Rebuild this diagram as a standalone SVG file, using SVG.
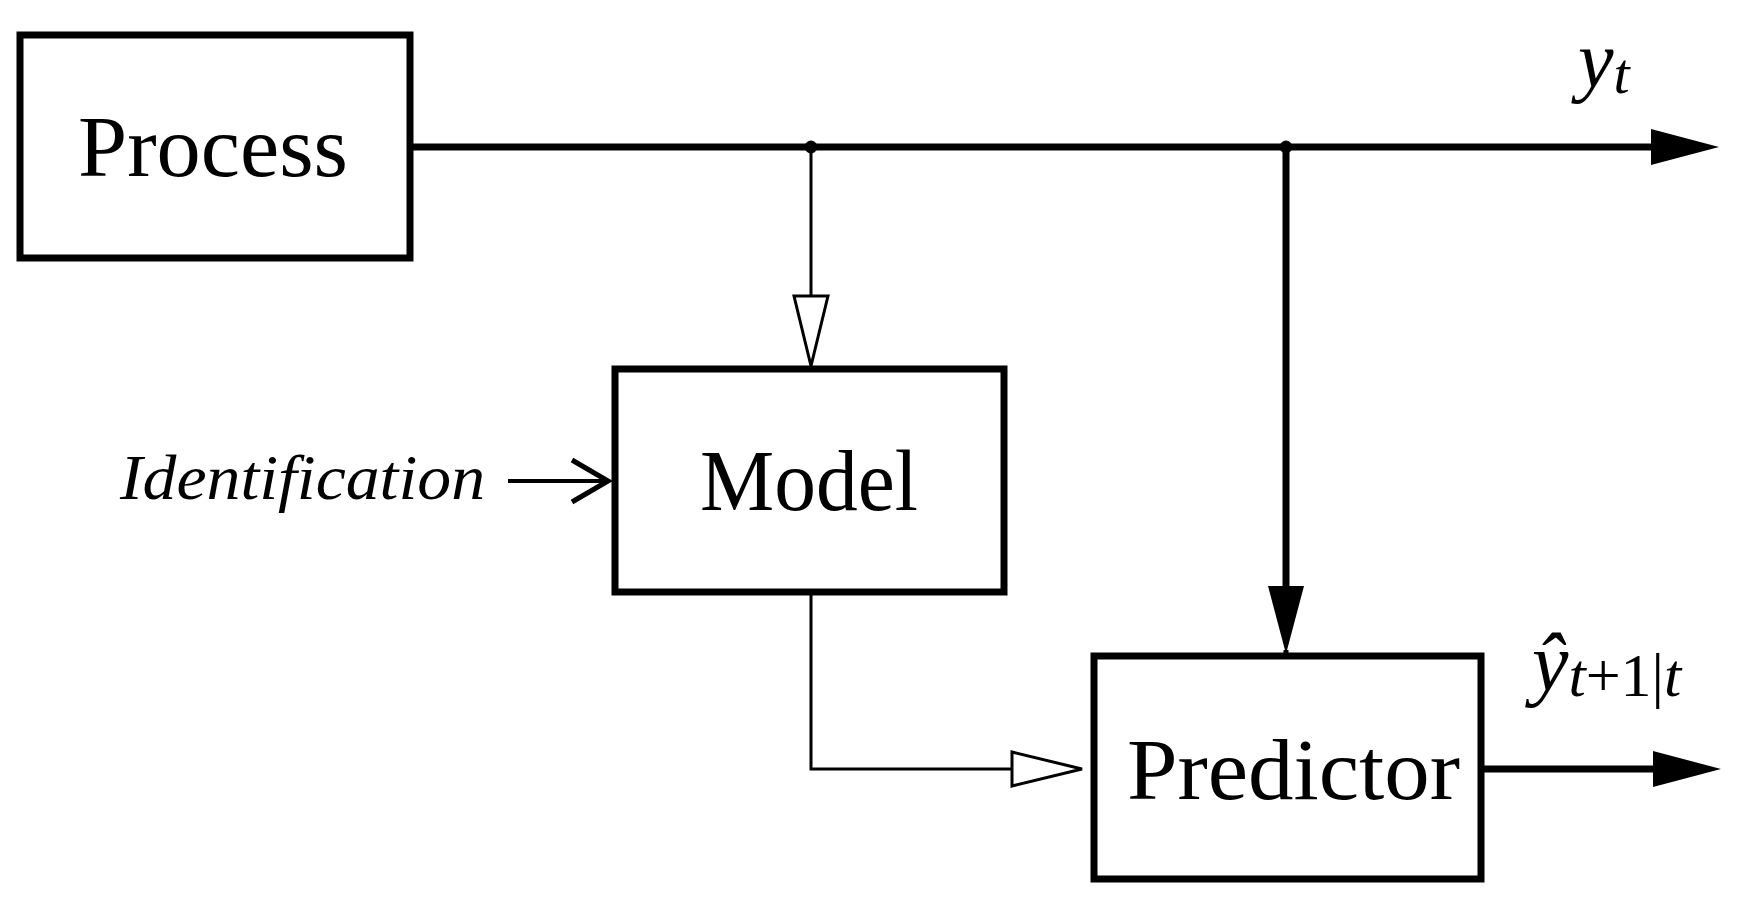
<svg xmlns="http://www.w3.org/2000/svg" width="1741" height="905" viewBox="0 0 1741 905">
<defs>
<style>
.box{fill:#fff;stroke:#000;stroke-width:7}
.lbl{font-family:"Liberation Serif",serif;font-size:86px;fill:#000}
.it{font-family:"Liberation Serif",serif;font-style:italic;fill:#000}
</style>
<marker id="fill" markerUnits="userSpaceOnUse" markerWidth="70" markerHeight="40" refX="0" refY="20" orient="auto"><path d="M0,2 L68,20 L0,38 Z" fill="#000"/></marker>
<marker id="hol" markerUnits="userSpaceOnUse" markerWidth="80" markerHeight="40" refX="2" refY="20" orient="auto"><path d="M2,3 L72,20 L2,37 Z" fill="#fff" stroke="#000" stroke-width="3"/></marker>
<marker id="open" markerUnits="userSpaceOnUse" markerWidth="50" markerHeight="50" refX="40" refY="25" orient="auto"><path d="M4,4 L40,25 L4,46" fill="none" stroke="#000" stroke-width="5"/></marker>
</defs>
<g id="connectors" fill="none" stroke="#000">
<path d="M410,147 H1651" stroke-width="7" marker-end="url(#fill)"/>
<circle cx="811" cy="147" r="6" fill="#000"/>
<circle cx="1286" cy="147" r="6" fill="#000"/>
<path d="M811,147 V296" stroke-width="3" marker-end="url(#hol)"/>
<path d="M1286,147 V586" stroke-width="7" marker-end="url(#fill)"/>
<path d="M1286,650 V656" stroke-width="5"/>
<path d="M811,592 V769 H1012" stroke-width="3" marker-end="url(#hol)"/>
<path d="M508,481 H608" stroke-width="4" marker-end="url(#open)"/>
<path d="M1481,769 H1653" stroke-width="7" marker-end="url(#fill)"/>
</g>
<g id="process"><rect class="box" x="20" y="35" width="390" height="223"/><text class="lbl" x="78" y="176" textLength="270" lengthAdjust="spacingAndGlyphs">Process</text></g>
<g id="model"><rect class="box" x="615" y="369" width="389" height="223"/><text class="lbl" x="700" y="510" textLength="218" lengthAdjust="spacingAndGlyphs">Model</text></g>
<g id="predictor"><rect class="box" x="1094" y="656" width="387" height="223"/><text class="lbl" x="1127" y="799" textLength="333" lengthAdjust="spacingAndGlyphs">Predictor</text></g>
<g id="labels">
<text class="it" x="120" y="499" font-size="64" textLength="365" lengthAdjust="spacingAndGlyphs">Identification</text>
<text class="it" x="1578" y="87" font-size="80">y<tspan font-size="58" dy="6">t</tspan></text>
<text class="it" x="1532" y="690" font-size="82">ŷ<tspan font-size="62" dy="6">t</tspan><tspan font-size="62" font-style="normal">+1|</tspan><tspan font-size="62">t</tspan></text>
</g>
</svg>
